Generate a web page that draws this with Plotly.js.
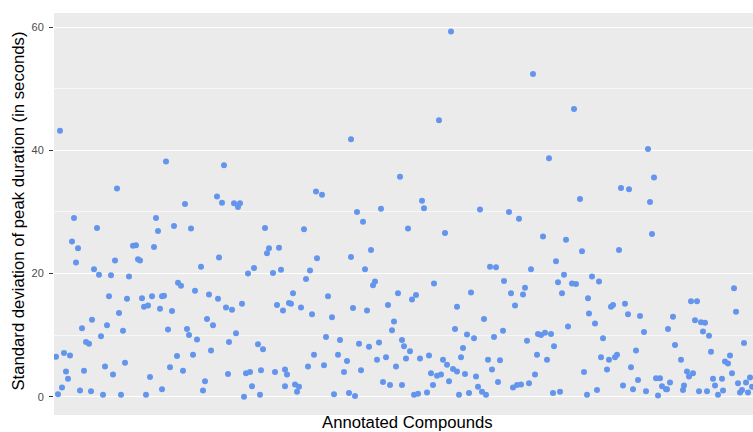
<!DOCTYPE html>
<html>
<head>
<meta charset="utf-8">
<script src="https://cdn.plot.ly/plotly-3.0.1.min.js"></script>
<style>
  html, body { margin: 0; padding: 0; background: #ffffff; overflow: hidden; }
  #chart { width: 753px; height: 432px; }
</style>
</head>
<body>
<div id="chart"></div>
<script>
// Position of each annotated compound along the x axis (order of the compound list)
const compoundPos = [
  2, 4, 6, 8, 10, 12, 14, 16, 18, 20, 22, 24, 26, 28, 30, 32, 35, 37, 38, 40,
  43, 45, 47, 49, 51, 53, 55, 57, 59, 61, 63, 65, 67, 69, 71, 73, 75, 79, 82, 84,
  86, 88,
  90, 92, 94, 96, 98, 100, 102, 104, 106, 108, 108, 110, 112, 114, 116, 118, 120, 123,
  124, 127, 129, 131, 133, 135, 137, 139, 141, 143, 147, 149, 151, 153, 155, 157, 159, 163,
  164, 165, 168, 170, 172, 174, 175,
  178, 180, 182, 184, 186, 188, 190, 192, 194, 196, 198, 200, 204, 206, 207, 209, 211, 213,
  215, 219, 221, 223, 225, 227, 229, 231, 231, 233, 235, 237, 239, 241, 243, 245, 247, 250,
  252, 254, 256, 258, 260, 262, 263,
  268, 270, 272, 274, 278, 280, 284, 286, 290, 293, 295, 297, 297, 299, 301, 303, 305, 307,
  309, 311, 313, 315, 317, 319, 321, 323, 325, 327, 329, 332, 334, 336, 338, 340, 342, 344,
  346, 348, 348, 350, 352, 354,
  356, 358, 360, 362, 364, 366, 368, 370, 373, 375, 377, 379, 380, 383, 385, 387, 389, 391,
  393, 395, 397, 399, 401, 403, 403, 405, 407, 409, 411, 413, 415, 417, 420, 422, 424, 426,
  428, 430, 432, 434, 436, 438, 440, 442, 444,
  446, 449, 450, 455, 457, 459, 461, 463, 465, 467, 469, 471, 473, 475, 477, 479, 481, 483,
  484, 487, 489, 491, 493, 495, 497, 499, 500, 502, 504, 506, 508, 510, 512, 514, 518, 520,
  522, 526, 528, 530, 533, 534, 535,
  538, 541, 543, 545, 547, 549, 553, 555, 557, 559, 561, 563, 565, 567, 569, 571, 574, 575,
  577, 579, 582, 584, 586, 590, 592, 594, 596, 598, 600, 602, 604, 606, 608, 612, 613, 614,
  616, 619, 621,
  627, 629, 630, 633, 635, 637, 639, 641, 643, 645, 647, 649, 651, 653, 655, 657, 659, 661,
  664, 668, 669, 671, 674, 676, 678, 680, 682, 684, 686, 688, 690, 692, 694, 696, 698
];

// Standard deviation of peak duration per compound (seconds)
const peakDurationSD = [
  6.5, 0.4, 43.2, 1.5, 7.1, 4.1, 2.9, 6.7, 25.2, 29.0, 21.8, 24.1, 1.0, 11.1, 4.2, 8.9, 8.6, 0.9, 12.5, 20.7,
  27.4, 19.8, 9.8, 0.3, 4.9, 11.6, 16.3, 19.7, 3.6, 22.1, 33.8, 13.6, 0.3, 10.7, 5.5, 15.9, 19.5, 24.5, 24.6, 22.3,
  22.1, 16.0,
  14.6, 0.3, 14.8, 3.2, 16.3, 24.3, 29.0, 26.9, 14.3, 1.2, 16.3, 16.4, 38.2, 10.9, 4.8, 13.9, 27.7, 6.6,
  18.5, 18.0, 4.2, 31.3, 11.0, 10.0, 27.3, 6.8, 17.2, 9.3, 21.1, 1.0, 2.5, 12.6, 16.6, 7.5, 11.6, 32.5,
  15.9, 22.6, 31.5, 37.6, 14.5, 3.7, 8.9,
  14.1, 31.4, 10.3, 30.8, 31.4, 15.1, 0.0, 3.8, 20.0, 4.0, 1.7, 20.9, 8.5, 0.3, 4.3, 7.7, 27.4, 23.3,
  24.1, 20.1, 4.0, 14.9, 24.2, 20.6, 14.0, 4.4, 1.7, 3.6, 15.2, 15.1, 16.8, 2.0, 0.8, 1.6, 14.5, 27.2,
  19.1, 4.9, 20.5, 13.4, 6.8, 33.3, 22.5,
  32.8, 5.1, 9.7, 16.3, 12.9, 0.4, 6.8, 9.2, 4.0, 5.8, 0.6, 41.8, 22.7, 14.4, 0.1, 30.0, 8.6, 4.3,
  28.4, 20.7, 14.0, 8.1, 23.8, 18.1, 18.7, 6.0, 8.8, 30.5, 2.4, 6.4, 14.9, 1.9, 10.8, 12.2, 4.9, 16.8,
  35.7, 9.2, 1.9, 8.2, 6.2, 27.3,
  7.4, 15.8, 0.3, 16.5, 0.5, 6.2, 31.8, 30.6, 0.7, 6.7, 3.8, 1.9, 18.4, 3.4, 44.9, 3.6, 6.0, 26.6,
  5.2, 2.5, 59.3, 4.5, 11.0, 14.6, 4.1, 0.3, 6.4, 7.9, 3.7, 10.1, 0.6, 16.9, 9.5, 3.3, 1.6, 30.4,
  0.8, 12.6, 0.3, 6.0, 21.1, 4.4, 9.7, 21.0, 2.4,
  5.9, 10.7, 18.8, 30.0, 16.8, 1.5, 14.8, 1.9, 28.9, 2.0, 16.6, 17.7, 9.1, 2.2, 20.7, 52.4, 3.6, 6.8,
  10.2, 10.0, 26.0, 10.4, 6.0, 38.7, 10.2, 0.6, 8.2, 22.0, 18.6, 0.8, 16.8, 19.8, 25.5, 11.4, 18.4, 46.7,
  18.3, 32.1, 23.6, 4.0, 0.3, 16.0, 13.5,
  19.5, 11.9, 1.1, 18.7, 6.4, 9.5, 4.4, 6.0, 14.6, 14.9, 6.4, 6.8, 23.8, 33.9, 1.8, 15.1, 13.4, 33.7,
  4.8, 1.2, 7.5, 2.7, 13.1, 10.5, 0.9, 40.2, 31.6, 26.4, 35.6, 3.0, 0.2, 3.0, 1.7, 1.2, 1.2, 11.0,
  2.3, 13.0, 8.4,
  6.0, 1.1, 1.8, 4.1, 3.3, 15.5, 3.8, 12.4, 15.5, 0.9, 12.1, 10.6, 12.0, 0.9, 9.9, 7.3, 2.9, 1.8,
  0.3, 2.9, 1.0, 5.7, 5.4, 6.7, 3.8, 17.6, 13.8, 2.2, 0.7, 1.1, 8.7, 2.3, 0.7, 3.1, 1.6
];

const yTickVals = [0, 20, 40, 60];
const yTickText = ['0', '20', '40', '60'];

const FONT = 'Liberation Sans, Arial, Helvetica, sans-serif';

const trace = {
  type: 'scatter',
  mode: 'markers',
  x: compoundPos,
  y: peakDurationSD,
  marker: { color: '#6495ED', size: 6, line: { width: 0 } },
  hoverinfo: 'y',
  showlegend: false
};

const layout = {
  width: 753,
  height: 432,
  margin: { l: 54, r: 0, t: 13, b: 17, pad: 0 },
  paper_bgcolor: '#ffffff',
  plot_bgcolor: '#EBEBEB',
  font: { family: FONT, color: '#000000' },
  xaxis: {
    range: [0, 699],
    showgrid: false,
    zeroline: false,
    showticklabels: false,
    ticks: '',
    showline: false,
    fixedrange: true
  },
  yaxis: {
    range: [-2.97, 62.3],
    tickmode: 'array',
    tickvals: yTickVals,
    ticktext: yTickText,
    ticks: 'outside',
    ticklen: 4,
    tickwidth: 1.1,
    tickcolor: '#333333',
    ticklabelstandoff: 3,
    tickfont: { family: FONT, size: 11, color: '#4D4D4D' },
    showgrid: true,
    gridcolor: '#ffffff',
    gridwidth: 1.2,
    minor: { tickmode: 'array', tickvals: [10, 30, 50], showgrid: true, gridcolor: '#ffffff', gridwidth: 0.6, ticks: '' },
    zeroline: false,
    showline: false,
    fixedrange: true
  },
  annotations: [
    {
      text: 'Annotated Compounds',
      xref: 'paper', yref: 'paper',
      x: 0.5064, y: -0.0187,
      xanchor: 'center', yanchor: 'middle',
      showarrow: false,
      font: { family: FONT, size: 16.7, color: '#000000' }
    },
    {
      text: 'Standard deviation of peak duration (in seconds)',
      xref: 'paper', yref: 'paper',
      x: -0.051, y: 0.507,
      xanchor: 'center', yanchor: 'middle',
      textangle: -90,
      showarrow: false,
      font: { family: FONT, size: 16.7, color: '#000000' }
    }
  ]
};

Plotly.newPlot('chart', [trace], layout, { displayModeBar: false, staticPlot: true });
</script>
</body>
</html>
